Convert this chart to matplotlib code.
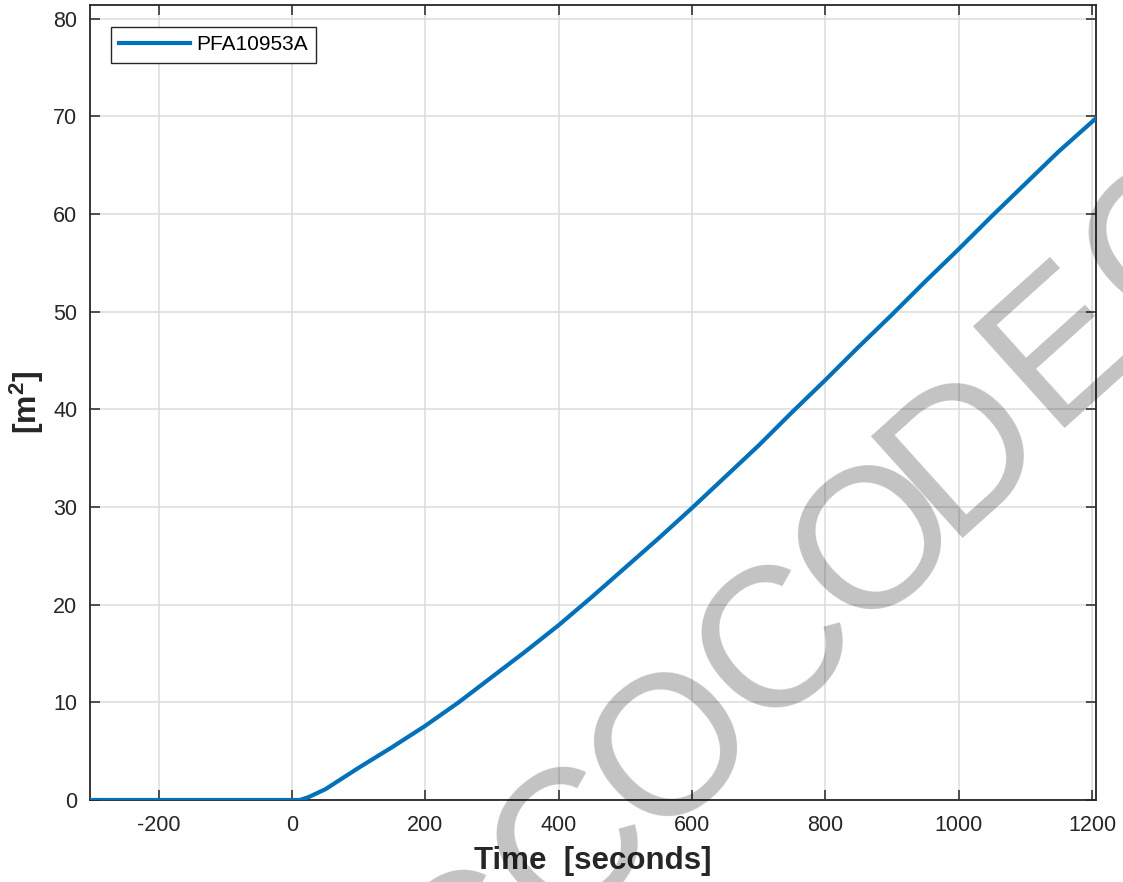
import numpy as np
import matplotlib.pyplot as plt

plt.rcParams['font.family'] = ['Liberation Sans', 'DejaVu Sans']
plt.rcParams['mathtext.fontset'] = 'custom'
plt.rcParams['mathtext.rm'] = 'Liberation Sans'
plt.rcParams['mathtext.bf'] = 'Liberation Sans:bold'
plt.rcParams['axes.unicode_minus'] = False

# time [s] and area [m^2]
time_s = [-303, 0, 12, 25, 50, 75, 100, 150, 200, 250, 300, 350, 400, 450, 500,
          550, 600, 650, 700, 750, 800, 850, 900, 950, 1000, 1050, 1100, 1150, 1206]
area_m2 = [0, 0, 0, 0.3, 1.1, 2.2, 3.3, 5.4, 7.6, 10.0, 12.6, 15.2, 17.9, 20.8, 23.8,
           26.8, 29.9, 33.1, 36.3, 39.7, 43.0, 46.4, 49.7, 53.1, 56.4, 59.8, 63.1, 66.4, 69.8]
series_name = 'PFA10953A'
xticks = np.arange(-200, 1201, 200)
yticks = np.arange(0, 81, 10)

W, H = 1123, 882
dark = '#262626'

fig = plt.figure(figsize=(W / 100, H / 100), dpi=100)
ax = fig.add_axes([90 / W, (H - 800) / H, 1006 / W, 795 / H])

ax.plot(time_s, area_m2, color='#0072BD', lw=3, label=series_name, zorder=3)

ax.set_xlim(-303, 1206)
ax.set_ylim(0, 81.4)
ax.set_xticks(xticks)
ax.set_yticks(yticks)
ax.grid(True, color='#dcdcdc', lw=1.1)
ax.set_axisbelow(True)
ax.tick_params(direction='in', length=7, width=1.1, colors=dark, labelsize=15.5,
               top=True, right=True)
ax.tick_params(axis='x', pad=11)
ax.tick_params(axis='y', pad=9)
for s in ax.spines.values():
    s.set_color(dark)
    s.set_linewidth(1.3)

ax.set_xlabel('Time  [seconds]', fontsize=22.5, fontweight='bold', color=dark, labelpad=7)
ax.set_ylabel(r'$\mathbf{[m^{2}]}$', fontsize=23, color=dark, labelpad=5)

leg = ax.legend(loc='upper left', bbox_to_anchor=(21 / 1006, 1 - 22 / 795), borderaxespad=0,
                fontsize=15, handlelength=3.4, handletextpad=0.3, borderpad=0.4,
                fancybox=False, framealpha=1, edgecolor=dark)
leg.get_frame().set_linewidth(1.0)

# grey watermark letters across the plot
marks = ['C', 'C', 'O', 'C', 'O', 'D', 'E', 'C']
mark_px = [(460, 935), (560, 832), (662, 735), (765, 630), (866, 528),
           (952, 437), (1050, 330), (1152, 230)]
for ch, (px, py) in zip(marks, mark_px):
    fig.text(px / W, 1 - py / H, ch, fontsize=143, color='k', alpha=0.24,
             rotation=42, rotation_mode='anchor', ha='center', va='center_baseline',
             zorder=10)

fig.savefig('out.png', dpi=100)
